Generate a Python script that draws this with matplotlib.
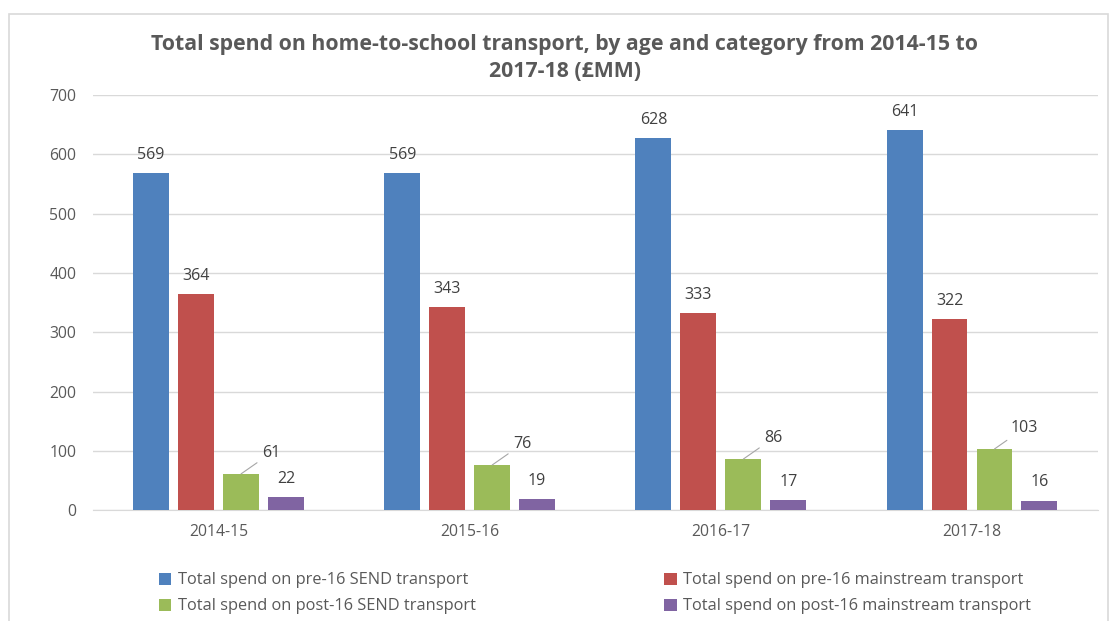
import matplotlib.pyplot as plt
import numpy as np

years = ['2014-15', '2015-16', '2016-17', '2017-18']
pre16_send = [569, 569, 628, 641]
pre16_main = [364, 343, 333, 322]
post16_send = [61, 76, 86, 103]
post16_main = [22, 19, 17, 16]
series_names = ['Total spend on pre-16 SEND transport',
                'Total spend on pre-16 mainstream transport',
                'Total spend on post-16 SEND transport',
                'Total spend on post-16 mainstream transport']
colors = ['#4F81BD', '#C0504D', '#9BBB59', '#8064A2']

plt.rcParams['font.family'] = ['Open Sans', 'DejaVu Sans']

fig = plt.figure(figsize=(11.1, 6.21), dpi=100)
ax = fig.add_axes([0.0838, 0.1787, 0.905, 0.668])

# light frame round the whole chart
fig.patches.append(plt.Rectangle((0.008, -0.01), 0.99, 0.988, transform=fig.transFigure,
                                 fill=False, edgecolor='#D9D9D9', linewidth=1.2))

x = np.arange(len(years))
w = 0.143
step = 0.179
all_series = [pre16_send, pre16_main, post16_send, post16_main]
handles = []
for i, vals in enumerate(all_series):
    xs = x + (i - 1.5) * step
    b = ax.bar(xs, vals, width=w, color=colors[i], label=series_names[i], zorder=3)
    handles.append(b)
    for xv, v in zip(xs, vals):
        if i == 2:
            # green labels sit up and to the right with a leader line
            ax.annotate(str(v), xy=(xv, v), xytext=(xv + 0.12, v + 22),
                        ha='center', va='bottom', fontsize=11.5, color='#404040',
                        arrowprops=dict(arrowstyle='-', color='#A6A6A6', lw=0.8,
                                        shrinkA=2, shrinkB=0))
        else:
            ax.text(xv, v + 17, str(v), ha='center', va='bottom',
                    fontsize=11.5, color='#404040')

ax.set_xlim(-0.5, 3.5)
ax.set_ylim(0, 700)
ax.set_yticks(range(0, 701, 100))
ax.set_xticks(x)
ax.set_xticklabels(years)
ax.grid(axis='y', color='#D9D9D9', linewidth=1, zorder=0)
for s in ['top', 'right', 'left']:
    ax.spines[s].set_visible(False)
ax.spines['bottom'].set_color('#D9D9D9')
ax.tick_params(axis='both', length=0, labelsize=11.3, labelcolor='#595959')
ax.tick_params(axis='x', pad=10)
ax.tick_params(axis='y', pad=12)

fig.text(0.509, 0.907, 'Total spend on home-to-school transport, by age and category from 2014-15 to\n2017-18 (£MM)',
         ha='center', va='center', fontsize=15.3, fontweight='bold', color='#595959',
         linespacing=1.35)

# legend fills by column, so order handles to get rows blue/red then green/purple
order = [0, 2, 1, 3]
ax.legend([handles[k] for k in order], [series_names[k] for k in order],
          loc='upper left', bbox_to_anchor=(0.051, -0.115), ncol=2, frameon=False,
          fontsize=11.8, labelcolor='#595959', handlelength=0.75, handleheight=0.75,
          handletextpad=0.4, columnspacing=11.5, labelspacing=0.6)

fig.savefig('out.png', dpi=100)
